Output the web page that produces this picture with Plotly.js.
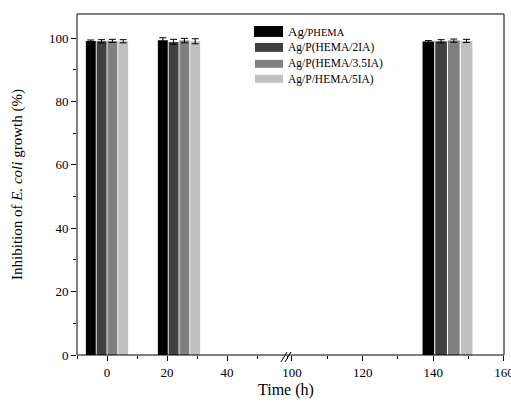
<!DOCTYPE html>
<html>
<head>
<meta charset="utf-8">
<script src="https://cdn.plot.ly/plotly-3.0.1.min.js"></script>
<style>html,body{margin:0;padding:0;background:#fff;}#chart{width:511px;height:404px;}</style>
</head>
<body>
<div id="chart"></div>
<script>
// Data
const times = [0, 24, 144];
const seriesNames = ["Ag/<span style='font-size:10.5px'>PHEMA</span>", "Ag/P(HEMA/2IA)", "Ag/P(HEMA/3.5IA)", "Ag/P/HEMA/5IA)"];
const phema = [99.1, 99.3, 98.9];
const phema2IA = [99.0, 98.8, 99.0];
const phema35IA = [99.1, 99.2, 99.2];
const phema5IA = [99.0, 99.0, 99.1];
const errPhema = [0.3, 0.8, 0.3];
const err2IA = [0.5, 0.8, 0.5];
const err35IA = [0.5, 0.7, 0.5];
const err5IA = [0.5, 0.8, 0.5];
const xTicks1 = [0, 20, 40];
const xTicks2 = [100, 120, 140, 160];

const colors = ["#000000", "#404040", "#808080", "#c0c0c0"];
const values = [phema, phema2IA, phema35IA, phema5IA];
const errors = [errPhema, err2IA, err35IA, err5IA];
const breakAt = 60;
const slot = 3.6, bw = 3.3;

const traces = [];
values.forEach((vals, i) => {
  const off = -2 * slot + i * slot + (slot - bw) / 2;
  [["x", t => t < breakAt], ["x2", t => t >= breakAt]].forEach(([ax, sel]) => {
    const idx = times.map((t, k) => sel(t) ? k : -1).filter(k => k >= 0);
    traces.push({
      type: "bar",
      x: idx.map(k => times[k]),
      y: idx.map(k => vals[k]),
      error_y: {type: "data", array: idx.map(k => errors[i][k]), visible: true, color: "#000", thickness: 1, width: 3.5},
      xaxis: ax, yaxis: "y",
      width: bw, offset: off,
      marker: {color: colors[i], line: {width: 0}},
      name: seriesNames[i],
      showlegend: false
    });
  });
});

const serif = "'Liberation Serif', 'Times New Roman', serif";
const fb = 0.4918;
const px = v => (v - 77) / 427;
const py = v => (355 - v) / 342;

// custom legend (wide swatches, tight spacing as in the reference)
const legRows = [[25, 36, 31], [42, 51, 47], [59, 67, 63], [74, 82, 79]];
const legShapes = legRows.map((r, i) => ({
  type: "rect", xref: "paper", yref: "paper",
  x0: px(i === 0 ? 254 : 255), x1: px(283), y0: py(r[1]), y1: py(r[0]),
  fillcolor: colors[i], line: {width: 0}
}));
const legAnn = legRows.map((r, i) => ({
  text: seriesNames[i], xref: "paper", yref: "paper", x: px(286), y: py(r[2]),
  xanchor: "left", yanchor: "middle", showarrow: false,
  font: {family: serif, size: i === 0 ? 13 : 11.5, color: "#000"}
}));

const layout = {
  width: 511, height: 404,
  margin: {l: 77, r: 7, t: 14, b: 49},
  paper_bgcolor: "#fff", plot_bgcolor: "#fff",
  barmode: "overlay",
  font: {family: serif, color: "#000", size: 13},
  showlegend: false,
  xaxis: {domain: [0, fb], range: [-10, breakAt], anchor: "y",
          tickmode: "array", tickvals: xTicks1, ticks: "outside", ticklen: 5, tickcolor: "#000",
          minor: {dtick: 10, tick0: 0, ticks: "outside", ticklen: 3, tickcolor: "#000"},
          showgrid: false, zeroline: false, showline: false,
          tickfont: {family: serif, size: 13}},
  xaxis2: {domain: [fb, 1], range: [98.6, 160], anchor: "y",
           tickmode: "array", tickvals: xTicks2, ticks: "outside", ticklen: 5, tickcolor: "#000",
           minor: {dtick: 10, tick0: 0, ticks: "outside", ticklen: 3, tickcolor: "#000"},
           showgrid: false, zeroline: false, showline: false, ticklabeloverflow: "allow",
           tickfont: {family: serif, size: 13}},
  yaxis: {range: [0, 107.6], dtick: 20, ticks: "outside", ticklen: 5, tickcolor: "#000",
          minor: {dtick: 10, ticks: "outside", ticklen: 3, tickcolor: "#000"},
          showgrid: false, zeroline: false, showline: false,
          tickfont: {family: serif, size: 13},
          title: {text: "Inhibition of <i>E. coli</i> growth (%)", font: {family: serif, size: 15}, standoff: 22}},
  annotations: [
    {text: "Time (h)", xref: "paper", yref: "paper", x: px(286), y: py(390), xanchor: "center", yanchor: "middle",
     showarrow: false, font: {family: serif, size: 16, color: "#000"}}
  ].concat(legAnn),
  shapes: [
    {type: "rect", xref: "paper", yref: "paper", x0: 0, x1: 1, y0: 0, y1: 1, line: {color: "#000", width: 1}},
    {type: "line", xref: "paper", yref: "paper", x0: px(281), x1: px(287), y0: py(362), y1: py(352), line: {color: "#000", width: 1}},
    {type: "line", xref: "paper", yref: "paper", x0: px(285), x1: px(291), y0: py(362), y1: py(352), line: {color: "#000", width: 1}}
  ].concat(legShapes)
};

Plotly.newPlot("chart", traces, layout, {displayModeBar: false, staticPlot: true});
</script>
</body>
</html>
